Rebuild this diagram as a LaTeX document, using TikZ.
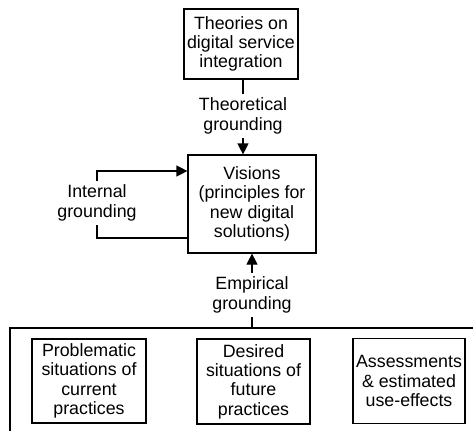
\documentclass[tikz,border=0pt]{standalone}
\usepackage{fontspec}
\setmainfont{Liberation Sans}
\usetikzlibrary{positioning}
\usetikzlibrary{arrows.meta}

\tikzset{
	box/.style={draw, line width=1.2pt, align=center, inner sep=0pt, font=\fontsize{17.8}{19.3}\selectfont},
	lab/.style={align=center, inner sep=4pt, font=\fontsize{17.8}{19.3}\selectfont},
	ln/.style={line width=1.2pt},
	arr/.style={ln, -{Triangle[length=11pt,width=11pt]}}
}

\begin{document}
\begin{tikzpicture}[x=1pt,y=-1pt]

	\useasboundingbox (0,0) rectangle (473,431);

	% top
	\node[box, minimum width=114pt, minimum height=70pt] (theories) at (241,44) {Theories on\\digital service\\integration};
	\node[box, minimum width=128pt, minimum height=98pt] (visions) at (252,204) {Visions\\(principles for\\new digital\\solutions)};

	% theoretical grounding
	\node[lab] (theolab) at (243,116) {Theoretical\\grounding};
	\draw[ln] (theolab |- theories.south) -- (theolab);
	\draw[arr] (theolab) -- (theolab |- visions.north);

	% internal grounding
	\node[lab] (intlab) at (97,203) {Internal\\grounding};
	\coordinate (iTop) at (97,171);
	\coordinate (iBot) at (97,238);
	\draw[arr] (intlab) -- (iTop) -- (visions.west |- iTop);
	\draw[ln] (intlab) -- (iBot) -- (visions.west |- iBot);

	% empirical grounding
	\node[lab] (emplab) at (252,295) {Empirical\\grounding};
	\draw[arr] (emplab) -- (visions.south);

	\coordinate (bTop) at (10,328);
	\coordinate (bRight) at (473,328);
	\coordinate (bBot) at (10,431);
	\draw[ln] (bBot) -- (bTop) -- (bRight);
	\draw[ln] (emplab) -- (emplab |- bTop);

	% bottom boxes
	\node[box, minimum width=114pt, minimum height=84pt] (problem) at (89,381) {Problematic\\situations of\\current\\practices};
	\node[box, minimum width=113pt, minimum height=85pt] (desired) at (253.5,381.5) {Desired\\situations of\\future\\practices};
	\node[box, minimum width=112pt, minimum height=85pt] (assess) at (409,381) {Assessments\\\& estimated\\use-effects};

\end{tikzpicture}
\end{document}
